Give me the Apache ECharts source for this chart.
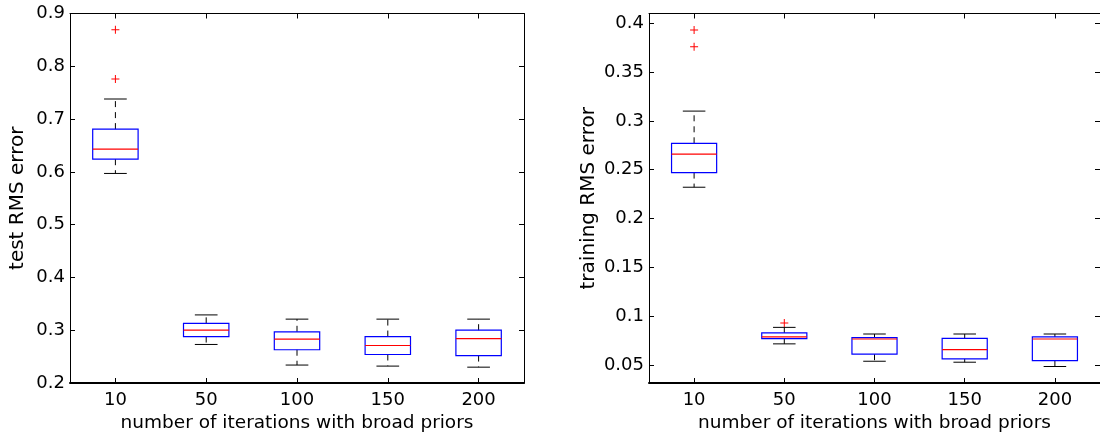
<!DOCTYPE html>
<html>
<head>
<meta charset="utf-8">
<script src="https://cdn.jsdelivr.net/npm/echarts@6/dist/echarts.min.js"></script>
<style>
  html, body { margin: 0; padding: 0; background: #ffffff; }
  #chart { width: 1100px; height: 439px; }
</style>
</head>
<body>
<div id="chart"></div>
<script>
// Iteration counts (x categories), shared by both panels
const iterations = ['10', '50', '100', '150', '200'];

// Test RMS error: [lower whisker, Q1, median, Q3, upper whisker] per iteration count
const testLower  = [0.597, 0.273, 0.234, 0.232, 0.230];
const testQ1     = [0.624, 0.288, 0.263, 0.254, 0.252];
const testMedian = [0.643, 0.300, 0.283, 0.271, 0.284];
const testQ3     = [0.681, 0.313, 0.297, 0.288, 0.300];
const testUpper  = [0.738, 0.329, 0.321, 0.321, 0.321];
// Test RMS outliers: [category index, value]
const testOutliers = [[0, 0.869], [0, 0.776]];

// Training RMS error
const trainLower  = [0.232, 0.0715, 0.0537, 0.0527, 0.0483];
const trainQ1     = [0.247, 0.0769, 0.0609, 0.0561, 0.0544];
const trainMedian = [0.266, 0.0786, 0.0765, 0.0656, 0.0765];
const trainQ3     = [0.277, 0.0827, 0.0779, 0.0772, 0.0786];
const trainUpper  = [0.310, 0.0884, 0.0816, 0.0816, 0.0816];
const trainOutliers = [[0, 0.393], [0, 0.376], [1, 0.0929]];

// Y tick labels
const testTicks  = [0.2, 0.3, 0.4, 0.5, 0.6, 0.7, 0.8, 0.9];
const trainTicks = [0.05, 0.1, 0.15, 0.2, 0.25, 0.3, 0.35, 0.4];

const FONT = 'DejaVu Sans';
const TICK_SIZE = 18;

function boxRows(lo, q1, med, q3, hi) {
  return iterations.map((_, i) => [i, lo[i], q1[i], med[i], q3[i], hi[i]]);
}

// Box with dashed whiskers, black caps, blue box and red median line
function renderBox(params, api) {
  const c = api.value(0);
  const pLo = api.coord([c, api.value(1)]);
  const pQ1 = api.coord([c, api.value(2)]);
  const pMed = api.coord([c, api.value(3)]);
  const pQ3 = api.coord([c, api.value(4)]);
  const pHi = api.coord([c, api.value(5)]);
  const band = api.size([1, 0])[0];
  const bw = band * 0.5;
  const cw = bw * 0.5;
  const x = pMed[0];
  const whisker = { stroke: '#000', lineWidth: 1, lineDash: [6, 5] };
  const cap = { stroke: '#000', lineWidth: 1 };
  return {
    type: 'group',
    children: [
      { type: 'line', shape: { x1: x, y1: pQ3[1], x2: x, y2: pHi[1] }, style: whisker },
      { type: 'line', shape: { x1: x, y1: pQ1[1], x2: x, y2: pLo[1] }, style: whisker },
      { type: 'line', shape: { x1: x - cw / 2, y1: pHi[1], x2: x + cw / 2, y2: pHi[1] }, style: cap },
      { type: 'line', shape: { x1: x - cw / 2, y1: pLo[1], x2: x + cw / 2, y2: pLo[1] }, style: cap },
      { type: 'rect', shape: { x: x - bw / 2, y: pQ3[1], width: bw, height: pQ1[1] - pQ3[1] },
        style: { fill: 'none', stroke: '#0000ff', lineWidth: 1.2 } },
      { type: 'line', shape: { x1: x - bw / 2, y1: pMed[1], x2: x + bw / 2, y2: pMed[1] },
        style: { stroke: '#ff0000', lineWidth: 1.2 } }
    ]
  };
}

const plusSymbol = 'path://M3.5,0H4.5V8H3.5Z M0,3.5H8V4.5H0Z';

function makeXAxes(gridIndex) {
  const common = {
    type: 'category', data: iterations, gridIndex: gridIndex, boundaryGap: true,
    axisTick: { show: true, inside: true, length: 5, alignWithLabel: true, lineStyle: { color: '#000' } }
  };
  return [
    Object.assign({}, common, {
      position: 'bottom',
      axisLine: { lineStyle: { color: '#000', width: 2 } },
      axisLabel: { color: '#000', fontFamily: FONT, fontSize: TICK_SIZE, margin: 8 },
      name: 'number of iterations with broad priors',
      nameLocation: 'middle', nameGap: 30,
      nameTextStyle: { color: '#000', fontFamily: FONT, fontSize: 18.5 }
    }),
    Object.assign({}, common, {
      position: 'top',
      axisLine: { lineStyle: { color: '#000', width: 1 } },
      axisLabel: { show: false }
    })
  ];
}

function makeYAxes(gridIndex, min, max, ticks, name, gap) {
  const common = {
    type: 'value', gridIndex: gridIndex, min: min, max: max, splitLine: { show: false },
    axisLine: { show: true, lineStyle: { color: '#000', width: 1 } }
  };
  return [
    Object.assign({}, common, {
      position: 'left',
      axisTick: { show: true, inside: true, length: 5, customValues: ticks, lineStyle: { color: '#000' } },
      axisLabel: { color: '#000', fontFamily: FONT, fontSize: TICK_SIZE, margin: 5, customValues: ticks },
      name: name, nameLocation: 'middle', nameGap: gap, nameRotate: 90,
      nameTextStyle: { color: '#000', fontFamily: FONT, fontSize: 20 }
    }),
    Object.assign({}, common, {
      position: 'right',
      axisTick: { show: true, inside: true, length: 5, customValues: ticks, lineStyle: { color: '#000' } },
      axisLabel: { show: false, customValues: ticks }
    })
  ];
}

const chart = echarts.init(document.getElementById('chart'), null, { renderer: 'canvas' });

chart.setOption({
  backgroundColor: '#ffffff',
  animation: false,
  grid: [
    { left: 70, top: 13.5, width: 454, height: 369.5 },
    { left: 649, top: 13.5, width: 455, height: 369.5 }
  ],
  xAxis: [].concat(makeXAxes(0), makeXAxes(1)),
  yAxis: [].concat(
    makeYAxes(0, 0.2, 0.9, testTicks, 'test RMS error', 42),
    makeYAxes(1, 0.0314, 0.41, trainTicks, 'training RMS error', 50)
  ),
  series: [
    {
      type: 'custom', xAxisIndex: 0, yAxisIndex: 0,
      data: boxRows(testLower, testQ1, testMedian, testQ3, testUpper),
      renderItem: renderBox, encode: { x: 0, y: [1, 2, 3, 4, 5] }
    },
    {
      type: 'scatter', xAxisIndex: 0, yAxisIndex: 0, data: testOutliers,
      symbol: plusSymbol, symbolSize: 8, itemStyle: { color: '#ff0000', opacity: 1 }
    },
    {
      type: 'custom', xAxisIndex: 2, yAxisIndex: 2,
      data: boxRows(trainLower, trainQ1, trainMedian, trainQ3, trainUpper),
      renderItem: renderBox, encode: { x: 0, y: [1, 2, 3, 4, 5] }
    },
    {
      type: 'scatter', xAxisIndex: 2, yAxisIndex: 2, data: trainOutliers,
      symbol: plusSymbol, symbolSize: 8, itemStyle: { color: '#ff0000', opacity: 1 }
    }
  ]
});
</script>
</body>
</html>
